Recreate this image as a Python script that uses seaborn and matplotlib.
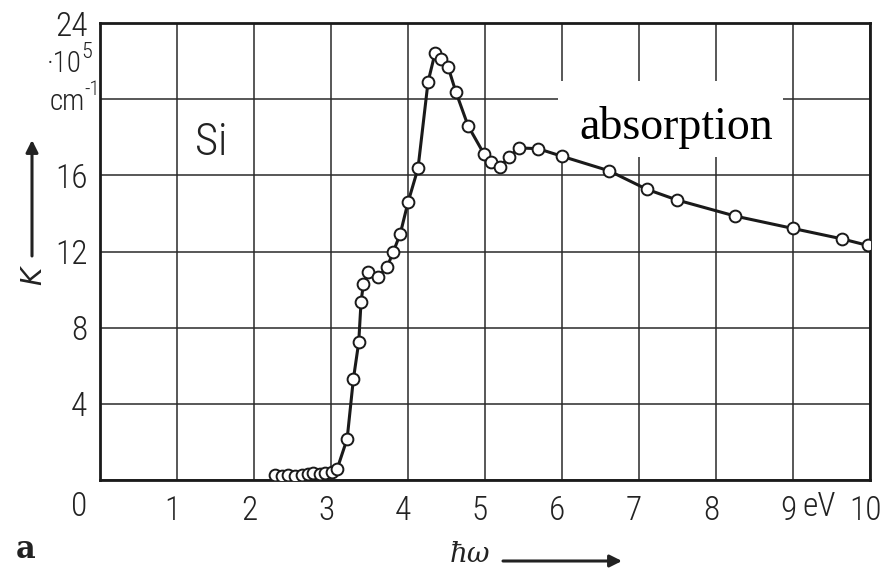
import matplotlib
matplotlib.use("Agg")
import matplotlib.pyplot as plt
import seaborn as sns
import pandas as pd
from matplotlib.transforms import ScaledTranslation
from matplotlib.patches import Rectangle
from matplotlib import font_manager

# ---- data (photon energy in eV, absorption coefficient K in 1e5 cm^-1) ----
hw = [2.27, 2.36, 2.44, 2.53, 2.62, 2.70, 2.77, 2.86, 2.92, 3.01,
      3.08, 3.21, 3.29, 3.36, 3.39, 3.42, 3.48, 3.61, 3.73, 3.81,
      3.90, 4.00, 4.13, 4.26, 4.35, 4.43, 4.52, 4.62, 4.78, 4.99,
      5.08, 5.19, 5.31, 5.44, 5.69, 6.00, 6.61, 7.10, 7.49, 8.25,
      9.00, 9.64, 9.97]
K = [0.25, 0.20, 0.25, 0.20, 0.25, 0.30, 0.35, 0.30, 0.35, 0.40,
     0.58, 2.17, 5.28, 7.23, 9.34, 10.28, 10.92, 10.66, 11.20, 11.99,
     12.94, 14.58, 16.37, 20.90, 22.40, 22.10, 21.70, 20.40, 18.60, 17.10,
     16.70, 16.43, 16.96, 17.44, 17.40, 17.00, 16.24, 15.27, 14.71, 13.86,
     13.21, 12.66, 12.32]

x_ticks = [1, 2, 3, 4, 5, 6, 7, 8, 9, 10]
x_labels = ["1", "2", "3", "4", "5", "6", "7", "8", "9", "10"]
y_ticks = [0, 4, 8, 12, 16, 20, 24]
y_labels = ["", "4", "8", "12", "16", "", "24"]

df = pd.DataFrame({"hw": hw, "K": K})

sns.set_style("white")
available = {f.name for f in font_manager.fontManager.ttflist}
NARROW = [f for f in ["Roboto Condensed", "Liberation Sans Narrow", "Roboto"]
          if f in available] + ["DejaVu Sans"]
plt.rcParams["font.family"] = NARROW

W, H = 886, 572
fig = plt.figure(figsize=(W / 100, H / 100), dpi=100)
ax = fig.add_axes([100 / W, 92 / H, 770 / W, 457 / H])

ax.set_xlim(0, 10)
ax.set_ylim(0, 24)

# grid
ax.set_xticks(range(0, 11))
ax.set_yticks(y_ticks)
ax.set_axisbelow(True)
ax.grid(True, color="#2a2a2a", lw=1.1)

# white patch behind "absorption" label
ax.add_patch(Rectangle((5.95, 16.95), 2.92, 4.0, facecolor="white",
                       edgecolor="none", zorder=1.5))

sns.lineplot(data=df, x="hw", y="K", ax=ax, color="#1a1a1a", lw=2.2,
             sort=False, zorder=3, legend=False)
sns.scatterplot(data=df, x="hw", y="K", ax=ax, s=72, facecolor="white",
                edgecolor="#1a1a1a", linewidth=1.4, zorder=4, legend=False)

for sp in ax.spines.values():
    sp.set_linewidth(2.0)
    sp.set_color("#1a1a1a")

# tick labels
FS = 24
ax.set_xticks(x_ticks, labels=x_labels)
ax.tick_params(axis="x", length=0, pad=11, labelsize=FS, colors="#222222")
ax.tick_params(axis="y", length=0, pad=9, labelsize=FS, colors="#222222")
ax.set_yticks(y_ticks, labels=y_labels)
for lab in ax.get_xticklabels() + ax.get_yticklabels():
    lab.set_fontweight("light")
for lab in ax.get_xticklabels():
    lab.set_transform(lab.get_transform() + ScaledTranslation(-5 / 100, 0, fig.dpi_scale_trans))
ax.set_xlabel("")
ax.set_ylabel("")


def fx(px):
    return px / W


def fy(py):
    return 1 - py / H


TXT = dict(color="#222222", family=NARROW, weight="light")
fig.text(fx(79), fy(507), "0", ha="center", va="center", fontsize=FS, **TXT)
fig.text(fx(819), fy(507), "eV", ha="center", va="center", fontsize=FS, **TXT)
# unit annotation: ·10^5 and cm^-1
fig.text(fx(82), fy(64), "\u00b710", ha="right", va="center", fontsize=21, **TXT)
fig.text(fx(81), fy(52), "5", ha="left", va="center", fontsize=16, **TXT)
fig.text(fx(85), fy(102), "cm", ha="right", va="center", fontsize=21, **TXT)
fig.text(fx(84), fy(90), "-1", ha="left", va="center", fontsize=15, **TXT)

# axis labels with arrows
fig.text(fx(33), fy(276), "K", ha="center", va="center", fontsize=20,
         rotation=90, style="italic", color="#222222", family=["DejaVu Sans"])
ax.annotate("", xy=(fx(32), fy(140)), xytext=(fx(32), fy(256)),
            xycoords="figure fraction", textcoords="figure fraction",
            arrowprops=dict(arrowstyle="-|>", lw=2.2, color="#222222",
                            mutation_scale=18, shrinkA=0, shrinkB=0))
fig.text(fx(470), fy(555), "\u0127\u03c9", ha="center", va="center", fontsize=20,
         style="italic", color="#222222", family=["DejaVu Serif"])
ax.annotate("", xy=(fx(622), fy(561)), xytext=(fx(503), fy(561)),
            xycoords="figure fraction", textcoords="figure fraction",
            arrowprops=dict(arrowstyle="-|>", lw=2.2, color="#222222",
                            mutation_scale=18, shrinkA=0, shrinkB=0))

fig.text(fx(26), fy(549), "a", ha="center", va="center", fontsize=22,
         weight="bold", color="#222222", family=["DejaVu Serif"])

# in-plot labels
ax.text(1.45, 17.7, "Si", ha="center", va="center", fontsize=32,
        zorder=5, **TXT)
ax.text(7.48, 18.5, "absorption", ha="center", va="center", fontsize=33,
        color="black", family=["Liberation Serif", "DejaVu Serif"], zorder=5)

fig.savefig("out.png", dpi=100, facecolor="white")
